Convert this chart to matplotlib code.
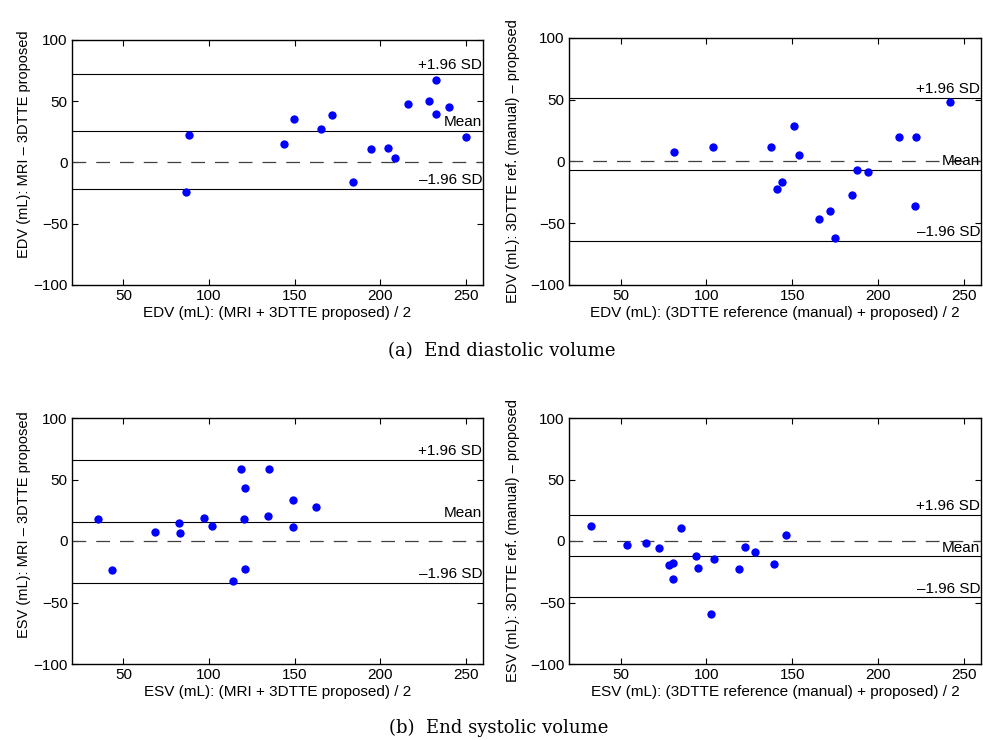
"""Bland-Altman plots: EDV / ESV, MRI vs 3DTTE and reference vs proposed."""

import matplotlib
matplotlib.use("Agg")
import matplotlib.pyplot as plt

plt.rcParams["font.family"] = ["Liberation Sans", "DejaVu Sans"]

# (a) EDV, MRI - 3DTTE proposed
edv_mri_mean = [86.4, 88.5, 144.0, 149.5, 165.3, 171.8, 183.9, 194.7, 204.8, 208.4,
                216.2, 228.3, 232.6, 232.4, 240.0, 250.0]
edv_mri_diff = [-23.8, 22.2, 15.1, 35.9, 27.4, 38.9, -15.9, 10.9, 12.0, 3.8,
                47.9, 50.6, 67.6, 39.7, 45.2, 20.5]
edv_mri_lines = [72.5, 26.0, -21.3]  # +1.96 SD, mean, -1.96 SD

# (a) EDV, 3DTTE reference (manual) - proposed
edv_ref_mean = [81.4, 103.9, 137.6, 141.3, 143.8, 150.8, 153.9, 165.7, 171.9, 175.0,
                184.9, 188.0, 194.4, 212.4, 222.3, 221.7, 241.7]
edv_ref_diff = [7.6, 11.7, 11.9, -22.2, -16.8, 28.5, 5.1, -46.3, -40.4, -61.8,
                -27.4, -7.0, -8.4, 19.5, 20.1, -35.8, 48.5]
edv_ref_lines = [51.5, -6.5, -64.5]

# (b) ESV, MRI - 3DTTE proposed
esv_mri_mean = [35.4, 43.2, 68.3, 82.3, 83.1, 96.9, 101.8, 114.0, 118.5, 120.8,
                120.4, 121.0, 134.8, 134.2, 149.2, 149.2, 162.6]
esv_mri_diff = [17.6, -23.3, 7.1, 14.9, 6.5, 18.7, 12.2, -32.8, 58.6, 42.9,
                17.6, -22.5, 58.3, 20.1, 33.1, 11.4, 28.0]
esv_mri_lines = [65.9, 15.7, -34.2]

# (b) ESV, 3DTTE reference (manual) - proposed
esv_ref_mean = [33.1, 53.9, 64.7, 72.5, 78.1, 80.6, 80.8, 85.5, 93.8, 95.0,
                102.7, 104.5, 119.2, 122.3, 128.3, 139.3, 146.3]
esv_ref_diff = [11.9, -3.0, -1.4, -5.7, -19.5, -18.2, -30.7, 10.6, -11.9, -22.3,
                -59.7, -14.7, -22.8, -4.6, -9.0, -19.0, 5.2]
esv_ref_lines = [20.9, -12.5, -45.9]

line_labels = ["+1.96 SD", "Mean", "\u20131.96 SD"]
x_ticks = [50, 100, 150, 200, 250]
y_ticks = [-100, -50, 0, 50, 100]

panels = [
    # pixel box, x, y, lines, xlabel, ylabel, ylabel position (axes frac)
    ([72, 40, 483, 285], edv_mri_mean, edv_mri_diff, edv_mri_lines,
     "EDV (mL): (MRI + 3DTTE proposed) / 2", "EDV (mL): MRI \u2013 3DTTE proposed", (-0.10, 0.575)),
    ([569, 38, 981, 285], edv_ref_mean, edv_ref_diff, edv_ref_lines,
     "EDV (mL): (3DTTE reference (manual) + proposed) / 2",
     "EDV (mL): 3DTTE ref. (manual) \u2013 proposed", (-0.12, 0.5)),
    ([72, 418, 483, 664], esv_mri_mean, esv_mri_diff, esv_mri_lines,
     "ESV (mL): (MRI + 3DTTE proposed) / 2", "ESV (mL): MRI \u2013 3DTTE proposed", (-0.10, 0.565)),
    ([569, 418, 981, 664], esv_ref_mean, esv_ref_diff, esv_ref_lines,
     "ESV (mL): (3DTTE reference (manual) + proposed) / 2",
     "ESV (mL): 3DTTE ref. (manual) \u2013 proposed", (-0.12, 0.5)),
]

W, H = 983, 740
fig = plt.figure(figsize=(W / 100, H / 100), dpi=100)

for (x0, y0, x1, y1), xs, ys, lims, xlabel, ylabel, ylab_pos in panels:
    ax = fig.add_axes([x0 / W, 1 - y1 / H, (x1 - x0) / W, (y1 - y0) / H])
    ax.set_xlim(20, 260)
    ax.set_ylim(-100, 100)
    ax.axhline(0, color="#404040", lw=0.9, ls=(0, (11, 8)))
    for val, lab in zip(lims, line_labels):
        ax.axhline(val, color="black", lw=0.8)
        ax.text(259.5, val + 1.5, lab, ha="right", va="bottom", fontsize=11)
    ax.plot(xs, ys, "o", color="#0000ff", markersize=6, markeredgewidth=0)
    ax.set_xticks(x_ticks)
    ax.set_yticks(y_ticks)
    ax.tick_params(direction="in", top=True, right=True, length=4, width=0.8,
                   labelsize=11, pad=3)
    ax.set_xlabel(xlabel, fontsize=11, labelpad=2)
    ax.set_ylabel(ylabel, fontsize=10.5)
    ax.yaxis.set_label_coords(*ylab_pos)
    for s in ax.spines.values():
        s.set_linewidth(1.0)

fig.text(0.51, 1 - 351 / H, "(a)  End diastolic volume", ha="center", va="center",
         fontsize=13, family="DejaVu Serif")
fig.text(0.507, 1 - 728 / H, "(b)  End systolic volume", ha="center", va="center",
         fontsize=13, family="DejaVu Serif")

fig.savefig("out.png", dpi=100)
